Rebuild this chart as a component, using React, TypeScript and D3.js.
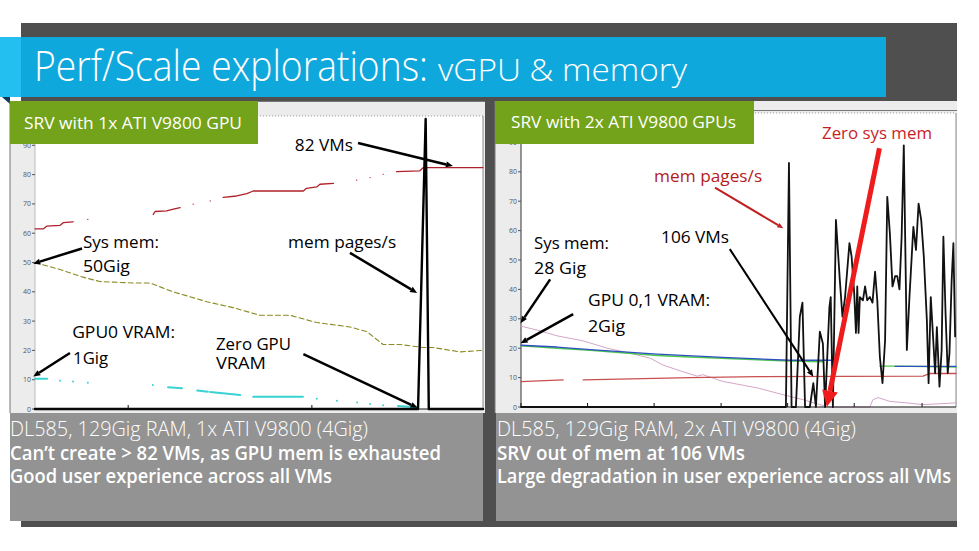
import React from "react";
import * as d3 from "d3";

type Pt = [number, number | null];

// ---- left chart: SRV with 1x ATI V9800 GPU (x = % of run, y = 0..100) ----
const leftYTicks = [0, 10, 20, 30, 40, 50, 60, 70, 80, 90];
const leftXTicks = [20.8, 61.8];

const leftVMs: Pt[] = [
  [0, 61.5], [1.9, 61.5], [2.6, 62.4], [5.6, 62.7], [6.3, 63.6], [8.5, 63.9], [9, null],
  [11.8, 64.7], [12, null],
  [26.4, 66.4], [26.8, 67.4], [29.4, 67.6], [30.9, 68.2], [32.4, 68.7], [33, null],
  [35.3, 69.9], [36, null], [39.1, 71], [40, null],
  [42, 72.2], [45, 72.7], [47.3, 73.5], [48.7, 74.4], [59.9, 74.4], [60.6, 75.3], [62.9, 75.8],
  [63.6, 76.7], [66.6, 77], [67, null],
  [71.8, 78.1], [72, null], [74.8, 79], [75, null], [77.7, 80.1], [78, null],
  [80.7, 81], [85.9, 81.3], [86.7, 82.4], [100, 82.4],
];

const leftSysMem: Pt[] = [
  [0, 50], [5.6, 47.6], [10.7, 45], [14.5, 43.5], [21.9, 43], [25.7, 43], [30.8, 40],
  [38.4, 36.6], [44.2, 34.6], [50.2, 32], [56.9, 32], [62.9, 29.5], [70.3, 28], [74.1, 26.4],
  [77.7, 22], [81.5, 22], [86.6, 21], [88.8, 21], [94.9, 19.5], [100, 20],
];

const leftVram: Pt[] = [
  [0, 10.3], [2.7, 10.3], [3, null], [5.6, 9.6], [6, null], [8.5, 9.4], [9, null],
  [11.8, 9.0], [12, null], [26.3, 8.2], [27, null], [29.7, 7.4], [32.8, 7.1], [33, null],
  [36.2, 6.3], [38.6, 5.9], [38.8, null], [39.1, 5.8], [45.8, 4.8], [46, null],
  [48.7, 4.2], [59.8, 4.2], [60, null], [62.9, 3.5], [63, null], [67.4, 2.8], [68, null],
  [71.9, 2.2], [72, null], [74.8, 1.7], [75, null], [77.7, 1.3], [78, null], [81, 1.0], [85.5, 0.6],
];

const leftPages: Pt[] = [[0, 0], [85.5, 0], [87.2, 99], [87.9, 0], [100, 0]];

// ---- right chart: SRV with 2x ATI V9800 GPUs ----
const rightYTicks = [0, 10, 20, 30, 40, 50, 60, 70, 80, 90];
const rightXTicks = [0, 15.3, 30.6, 46, 61.3, 76.6, 92.2];

const rightSysMem: Pt[] = [
  [0, 27.5], [4.4, 25.9], [8.3, 24.2], [14.3, 22.5], [19.8, 20], [25.1, 18.3], [29.7, 16.6],
  [32.6, 14.3], [37.2, 12], [40.5, 10.5], [41.8, 11], [46.4, 8.7], [54.3, 6.5], [60.2, 4.2],
  [64.8, 2.5], [68.7, 0.8], [71, 0], [80.2, 0], [80.9, 2.5], [82.1, 3.2], [84.8, 1.9],
  [88.7, 1.4], [92.4, 0.8], [100, 1.4],
];

const rightVram0: Pt[] = [
  [0, 20.8], [8.3, 20], [15.9, 19.3], [31.3, 17.5], [38.9, 17], [61.8, 15.6], [69.4, 15.4], [70, null],
  [82.5, 13.9], [86, 13.9], [100, 13.6],
];

const rightVram1: Pt[] = [
  [0, 21], [8.3, 20.4], [15.9, 19.5], [31.3, 18], [46.4, 16.9], [61.8, 15.9], [71.3, 15.9], [72, null],
  [86, 13.8], [100, 13.8],
];

const rightVMs: Pt[] = [
  [0, 8.6], [9.7, 9.2], [10, null], [14.3, 9.2], [38.9, 10], [54.3, 10.3], [92.4, 10.5],
  [94, 11.4], [100, 11.4],
];

const rightPages: Pt[] = [
  [0, 0], [60.9, 0], [61.6, 83], [62.2, 0], [63.2, 0], [64.1, 30.7], [64.7, 35.5], [65.3, 0],
  [66.4, 0], [67.2, 8.1], [67.8, 0], [68.7, 25.6], [69.4, 21.6], [69.9, 0], [70.9, 34],
  [71.2, 37.4], [71.7, 0], [72.4, 63.6], [73.3, 43], [73.9, 30.7], [74.5, 37.4], [75.5, 55.7],
  [76, 51.2], [76.6, 38.7], [77, 25.2], [77.3, 41], [77.6, 25.2], [77.9, 37.4], [78.6, 36.3],
  [79.1, 41], [79.6, 36.3], [80.2, 37.4], [80.8, 35.5], [81.4, 46], [81.9, 36.3], [82.5, 17],
  [83.1, 8.1], [83.7, 22.7], [84.2, 71.5], [84.8, 59], [85.4, 41], [86, 44.5], [86.5, 44.5],
  [87, 40], [87.5, 57.8], [88, 89], [88.7, 19.4], [89.3, 37.4], [90.2, 61.3], [90.8, 53.4],
  [91.4, 69.2], [92, 63.6], [92.6, 51.2], [93.3, 29.6], [93.7, 8.1], [94.2, 37.4], [94.6, 27.2],
  [95.2, 11.5], [95.6, 27.2], [96.2, 6.9], [96.7, 19.4], [97.1, 57.9], [97.6, 31.8], [98.1, 11.5],
  [98.5, 18.3], [99, 43], [99.4, 55.7], [99.8, 24],
];

// annotations, in data units of each chart
type Note = { text: string; t: number; v: number; len: number; fill?: string };
type Arrow = { t1: number; v1: number; t2: number; v2: number; w: number; color: string; hl: number; hw: number };

const leftNotes: Note[] = [
  { text: "82 VMs", t: 58.0, v: 88.0, len: 58 },
  { text: "Sys mem:", t: 10.7, v: 54.8, len: 76 },
  { text: "50Gig", t: 10.7, v: 46.6, len: 47 },
  { text: "mem pages/s", t: 56.5, v: 54.8, len: 108 },
  { text: "GPU0 VRAM:", t: 8.3, v: 24.3, len: 103 },
  { text: "1Gig", t: 8.5, v: 15.4, len: 35 },
  { text: "Zero GPU", t: 40.4, v: 20.2, len: 75 },
  { text: "VRAM", t: 40.4, v: 13.7, len: 50 },
];
const leftArrows: Arrow[] = [
  { t1: 72.1, v1: 90.8, t2: 93.3, v2: 82.9, w: 2.5, color: "#000", hl: 7, hw: 6 },
  { t1: 10.5, v1: 54.8, t2: -0.4, v2: 49.6, w: 2.5, color: "#000", hl: 7, hw: 6 },
  { t1: 70.3, v1: 53.3, t2: 85.3, v2: 39.6, w: 2.5, color: "#000", hl: 7, hw: 6 },
  { t1: 7.8, v1: 19.1, t2: -0.4, v2: 11.1, w: 2.5, color: "#000", hl: 7, hw: 6 },
  { t1: 59.9, v1: 18.7, t2: 85.4, v2: 0.4, w: 2.5, color: "#000", hl: 7, hw: 6 },
];

const rightNotes: Note[] = [
  { text: "Zero sys mem", t: 69.2, v: 91.2, len: 110, fill: "#c81e28" },
  { text: "mem pages/s", t: 30.6, v: 76.5, len: 108, fill: "#b21c1c" },
  { text: "Sys mem:", t: 3.0, v: 53.7, len: 75 },
  { text: "28 Gig", t: 3.0, v: 45.2, len: 52 },
  { text: "GPU 0,1 VRAM:", t: 15.4, v: 34.4, len: 122 },
  { text: "2Gig", t: 15.4, v: 25.5, len: 37 },
  { text: "106 VMs", t: 32.2, v: 55.8, len: 68 },
];
const rightArrows: Arrow[] = [
  { t1: 6.7, v1: 43.4, t2: -0.1, v2: 28.5, w: 2.5, color: "#000", hl: 7, hw: 6 },
  { t1: 12, v1: 31.6, t2: -0.1, v2: 21.7, w: 2.5, color: "#000", hl: 7, hw: 6 },
  { t1: 48, v1: 53.7, t2: 67.2, v2: 10.3, w: 2, color: "#000", hl: 7, hw: 6 },
  { t1: 44.6, v1: 74.6, t2: 60.3, v2: 60.8, w: 2, color: "#c02020", hl: 6, hw: 5 },
  { t1: 82.4, v1: 88, t2: 70.3, v2: 0.1, w: 5, color: "#ee1c1c", hl: 16, hw: 16 },
];

const FONT = "'Open Sans', 'Noto Sans', sans-serif";

function arrowParts(x1: number, y1: number, x2: number, y2: number, hl: number, hw: number) {
  const a = Math.atan2(y2 - y1, x2 - x1);
  const bx = x2 - hl * Math.cos(a);
  const by = y2 - hl * Math.sin(a);
  const px = (-Math.sin(a) * hw) / 2;
  const py = (Math.cos(a) * hw) / 2;
  return { bx, by, head: `${x2},${y2} ${bx + px},${by + py} ${bx - px},${by - py}` };
}

type Series = { data: Pt[]; color: string; width: number; dash?: string };

function Chart(props: {
  frame: [number, number, number, number];
  plot: [number, number, number, number];
  yTicks: number[];
  xTicks: number[];
  series: Series[];
  notes: Note[];
  arrows: Arrow[];
  axisColor: string;
}) {
  const { frame, plot, yTicks, xTicks, series, notes, arrows, axisColor } = props;
  const [px0, py0, px1, py1] = plot;
  const x = d3.scaleLinear().domain([0, 100]).range([px0, px1]);
  const y = d3.scaleLinear().domain([0, 100]).range([py1, py0]);
  const line = d3
    .line<Pt>()
    .defined((d) => d[1] !== null)
    .x((d) => x(d[0]))
    .y((d) => y(d[1] as number));

  return (
    <g>
      <rect x={frame[0]} y={frame[1]} width={frame[2] - frame[0]} height={frame[3] - frame[1]} fill="#ececec" />
      <rect x={px0} y={py0} width={px1 - px0} height={py1 - py0} fill="#fff" />
      <line x1={px0} x2={px1} y1={py0} y2={py0} stroke="#999" strokeDasharray="1 2" />
      <line x1={px1} x2={px1} y1={py0} y2={py1} stroke="#888" />
      <line x1={frame[0]} x2={frame[0]} y1={frame[1]} y2={frame[3]} stroke="#777" />
      <line x1={px0} x2={px0} y1={py0} y2={py1} stroke={axisColor} />
      {yTicks.map((t) => (
        <g key={t}>
          <line x1={px0 - 3} x2={px0} y1={y(t)} y2={y(t)} stroke="#555" />
          <text x={px0 - 4} y={y(t) + 2.5} fontSize={7} fill="#555" textAnchor="end" fontFamily={FONT}>
            {t}
          </text>
        </g>
      ))}
      {series.map((s, i) => (
        <path
          key={i}
          d={line(s.data) || ""}
          fill="none"
          stroke={s.color}
          strokeWidth={s.width}
          strokeDasharray={s.dash}
          strokeLinecap="round"
          strokeLinejoin="round"
        />
      ))}
      <line x1={px0} x2={px1} y1={py1} y2={py1} stroke="#111" />
      {xTicks.map((t) => (
        <line key={t} x1={x(t)} x2={x(t)} y1={py1} y2={py1 - 4} stroke="#111" />
      ))}
      {arrows.map((a, i) => {
        const x1 = x(a.t1), y1 = y(a.v1), x2 = x(a.t2), y2 = y(a.v2);
        const p = arrowParts(x1, y1, x2, y2, a.hl, a.hw);
        return (
          <g key={i}>
            <line x1={x1} y1={y1} x2={p.bx} y2={p.by} stroke={a.color} strokeWidth={a.w} />
            <polygon points={p.head} fill={a.color} />
          </g>
        );
      })}
      {notes.map((n, i) => (
        <text
          key={i}
          x={x(n.t)}
          y={y(n.v)}
          fontSize={17}
          fontFamily={FONT}
          fill={n.fill || "#000"}
          textLength={n.len}
          lengthAdjust="spacingAndGlyphs"
        >
          {n.text}
        </text>
      ))}
    </g>
  );
}

const leftCaption = [
  "DL585, 129Gig RAM, 1x ATI V9800 (4Gig)",
  "Can\u2019t create > 82 VMs, as GPU mem is exhausted",
  "Good user experience across all VMs",
];
const rightCaption = [
  "DL585, 129Gig RAM, 2x ATI V9800 (4Gig)",
  "SRV out of mem at 106 VMs",
  "Large degradation in user experience across all VMs",
];
const leftCaptionLen = [358, 431, 322];
const rightCaptionLen = [359, 248, 454];

export default function App() {
  return (
    <svg width={979} height={551} style={{ position: "absolute", left: 0, top: 0, background: "#fff" }}>
      <rect x={21} y={23} width={936} height={504} fill="#4f4f4f" />
      {/* title bar */}
      <rect x={0} y={37} width={21} height={60} fill="#22bff0" />
      <rect x={21} y={37} width={865} height={60} fill="#0fa8dc" />
      <polygon points="2,97 10,97 10,104" fill="#0d3a5a" />
      <text x={34} y={81} fill="#fff" fontFamily={FONT} fontWeight={300} fontSize={42} textLength={394} lengthAdjust="spacingAndGlyphs">
        Perf/Scale explorations:
      </text>
      <text x={438} y={81} fill="#fff" fontFamily={FONT} fontWeight={300} fontSize={32} textLength={249} lengthAdjust="spacingAndGlyphs">
        vGPU &amp; memory
      </text>

      <Chart
        frame={[10, 101, 485, 413]}
        plot={[35, 116, 483, 409]}
        yTicks={leftYTicks}
        xTicks={leftXTicks}
        axisColor="#bbb"
        series={[
          { data: leftVMs, color: "#b0202a", width: 1.3 },
          { data: leftSysMem, color: "#8a8a22", width: 1.1, dash: "5 3" },
          { data: leftVram, color: "#3ad2d2", width: 2 },
          { data: leftPages, color: "#000", width: 2.4 },
        ]}
        notes={leftNotes}
        arrows={leftArrows}
      />
      <Chart
        frame={[495, 101, 957, 413]}
        plot={[521, 113, 956, 407]}
        yTicks={rightYTicks}
        xTicks={rightXTicks}
        axisColor="#333"
        series={[
          { data: rightSysMem, color: "#d4a6c8", width: 1 },
          { data: rightVMs, color: "#c85050", width: 1.3 },
          { data: rightVram0, color: "#4cc84c", width: 1.4 },
          { data: rightVram1, color: "#3050c0", width: 1.3 },
          { data: rightPages, color: "#111", width: 1.8 },
        ]}
        notes={rightNotes}
        arrows={rightArrows}
      />
      <line x1={258} x2={485} y1={101.5} y2={101.5} stroke="#777" />
      <line x1={754} x2={957} y1={110.5} y2={110.5} stroke="#777" />

      {/* green panel labels */}
      <rect x={10} y={101} width={248} height={43} fill="#72a31b" />
      <text x={24} y={129} fill="#fff" fontFamily={FONT} fontSize={17} textLength={218} lengthAdjust="spacingAndGlyphs">
        SRV with 1x ATI V9800 GPU
      </text>
      <rect x={495} y={101} width={259} height={43} fill="#72a31b" />
      <text x={511} y={128} fill="#fff" fontFamily={FONT} fontSize={17} textLength={225} lengthAdjust="spacingAndGlyphs">
        SRV with 2x ATI V9800 GPUs
      </text>

      {/* caption boxes */}
      <rect x={10} y={413} width={473} height={108} fill="#939393" />
      <rect x={496} y={413} width={461} height={108} fill="#939393" />
      {leftCaption.map((s, i) => (
        <text key={i} x={10} y={436 + i * 23.5} fill="#fff" fontFamily={FONT} fontSize={20}
          fontWeight={i === 0 ? 300 : 600} textLength={leftCaptionLen[i]} lengthAdjust="spacingAndGlyphs">
          {s}
        </text>
      ))}
      {rightCaption.map((s, i) => (
        <text key={i} x={497} y={436 + i * 23.5} fill="#fff" fontFamily={FONT} fontSize={20}
          fontWeight={i === 0 ? 300 : 600} textLength={rightCaptionLen[i]} lengthAdjust="spacingAndGlyphs">
          {s}
        </text>
      ))}
    </svg>
  );
}
